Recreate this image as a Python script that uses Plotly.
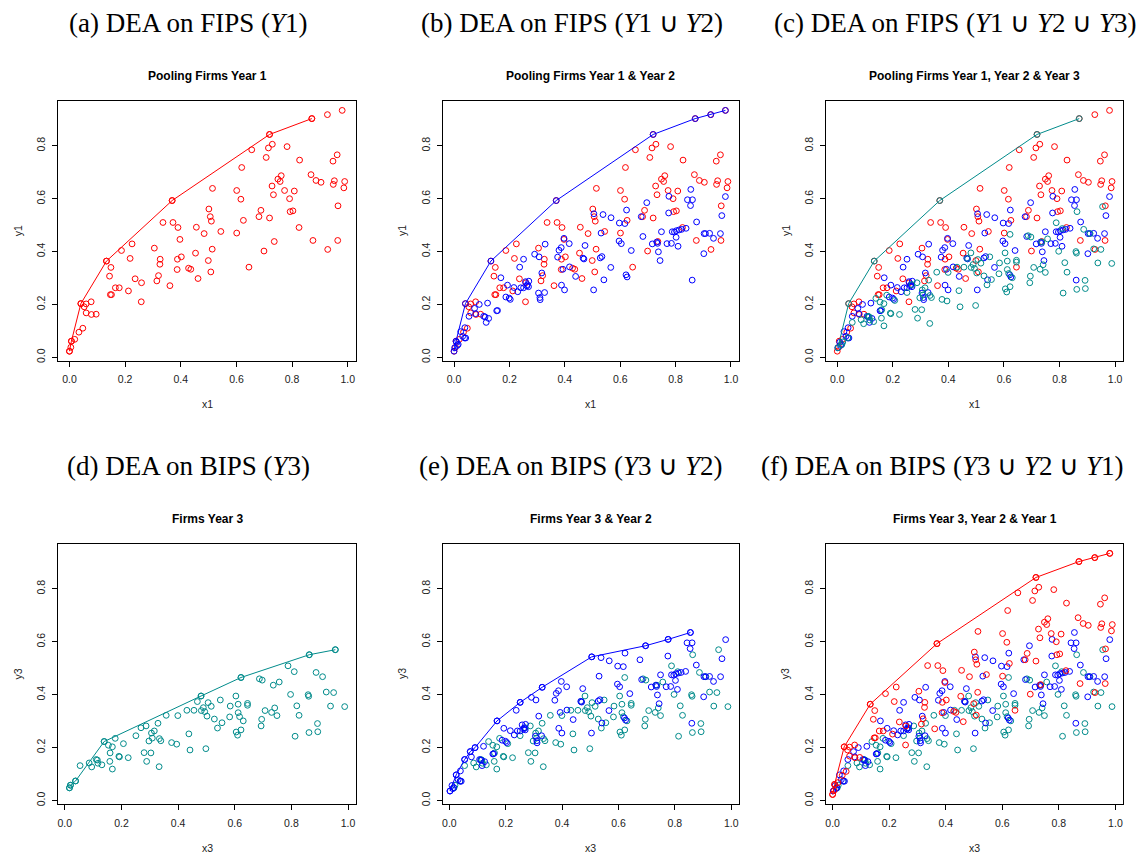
import plotly.graph_objects as go

# ---------------- data ----------------
red_x = [0.000,0.005,0.007,0.019,0.034,0.048,0.041,0.053,0.060,0.060,0.078,0.079,0.096,0.133,0.149,0.144,0.147,0.151,0.165,0.179,
         0.187,0.212,0.218,0.225,0.236,0.259,0.258,0.305,0.326,0.325,0.320,0.314,0.336,0.361,0.369,0.372,0.390,0.397,0.388,0.402,
         0.387,0.428,0.436,0.453,0.456,0.462,0.484,0.499,0.501,0.506,0.510,0.513,0.508,0.514,0.544,0.601,0.616,0.601,0.619,0.625,
         0.645,0.655,0.681,0.688,0.699,0.707,0.715,0.719,0.729,0.719,0.728,0.733,0.736,0.749,0.757,0.761,0.773,0.782,0.791,0.793,
         0.803,0.808,0.825,0.827,0.868,0.871,0.875,0.886,0.904,0.927,0.928,0.947,0.962,0.948,0.952,0.965,0.964,0.980,0.986,0.989]
red_y = [0.023,0.038,0.061,0.068,0.095,0.110,0.203,0.191,0.202,0.168,0.210,0.162,0.163,0.364,0.340,0.307,0.237,0.237,0.263,0.263,
         0.404,0.251,0.374,0.429,0.297,0.282,0.210,0.413,0.371,0.352,0.309,0.289,0.510,0.271,0.593,0.510,0.491,0.446,0.371,0.380,
         0.332,0.337,0.333,0.394,0.492,0.298,0.468,0.366,0.561,0.532,0.515,0.409,0.323,0.639,0.476,0.631,0.598,0.470,0.718,0.518,
         0.341,0.785,0.532,0.556,0.402,0.756,0.792,0.843,0.806,0.527,0.648,0.615,0.438,0.674,0.665,0.687,0.631,0.797,0.600,0.551,
         0.554,0.629,0.491,0.746,0.691,0.903,0.442,0.669,0.662,0.918,0.408,0.742,0.766,0.654,0.668,0.573,0.442,0.934,0.641,0.665]

blue_x = [0.002,0.009,0.012,0.015,0.024,0.031,0.038,0.042,0.039,0.054,0.074,0.078,0.091,0.107,0.112,0.116,0.121,0.125,0.154,0.157,
          0.169,0.187,0.193,0.199,0.203,0.216,0.230,0.237,0.241,0.251,0.251,0.258,0.263,0.265,0.270,0.269,0.291,0.307,0.305,0.310,
          0.311,0.317,0.327,0.329,0.374,0.379,0.387,0.388,0.393,0.399,0.397,0.416,0.417,0.439,0.473,0.466,0.469,0.504,0.505,0.528,
          0.531,0.534,0.538,0.541,0.566,0.567,0.596,0.597,0.604,0.617,0.623,0.621,0.625,0.640,0.676,0.682,0.696,0.716,0.732,0.735,
          0.738,0.744,0.749,0.769,0.775,0.776,0.785,0.788,0.796,0.802,0.803,0.809,0.813,0.822,0.838,0.843,0.855,0.854,0.861,0.860,
          0.876,0.902,0.903,0.908,0.923,0.937,0.962,0.967,0.980]
blue_y = [0.036,0.057,0.045,0.049,0.097,0.079,0.073,0.073,0.112,0.155,0.185,0.165,0.200,0.155,0.153,0.132,0.205,0.147,0.176,0.177,
          0.301,0.228,0.273,0.224,0.219,0.264,0.248,0.341,0.263,0.371,0.263,0.286,0.270,0.275,0.288,0.267,0.390,0.380,0.243,0.226,
          0.218,0.319,0.245,0.428,0.379,0.405,0.415,0.273,0.333,0.255,0.450,0.430,0.342,0.306,0.423,0.375,0.372,0.255,0.543,0.376,
          0.470,0.381,0.540,0.293,0.340,0.528,0.440,0.508,0.430,0.506,0.557,0.312,0.304,0.404,0.532,0.457,0.585,0.429,0.436,0.431,
          0.399,0.366,0.475,0.430,0.546,0.609,0.431,0.475,0.474,0.454,0.479,0.420,0.482,0.484,0.488,0.596,0.635,0.574,0.596,0.292,
          0.512,0.392,0.468,0.468,0.469,0.450,0.468,0.536,0.608]

teal_x = [0.0165,0.020,0.038,0.054,0.086,0.095,0.111,0.115,0.117,0.131,0.139,0.154,0.168,0.160,0.159,0.168,0.178,0.191,0.193,0.207,
          0.224,0.251,0.269,0.287,0.280,0.289,0.304,0.297,0.309,0.306,0.316,0.329,0.334,0.339,0.333,0.358,0.377,0.395,0.399,0.431,
          0.438,0.442,0.456,0.468,0.481,0.482,0.489,0.494,0.502,0.498,0.506,0.517,0.528,0.539,0.549,0.555,0.582,0.584,0.604,0.605,
          0.610,0.612,0.612,0.617,0.622,0.622,0.630,0.645,0.645,0.687,0.697,0.693,0.695,0.707,0.730,0.741,0.749,0.736,0.757,0.788,
          0.797,0.810,0.813,0.819,0.827,0.859,0.861,0.863,0.862,0.887,0.892,0.893,0.910,0.923,0.938,0.949,0.955,0.988]
teal_y = [0.048,0.058,0.074,0.132,0.142,0.127,0.155,0.153,0.141,0.135,0.223,0.209,0.203,0.180,0.148,0.119,0.235,0.167,0.165,0.215,
          0.162,0.245,0.275,0.282,0.181,0.148,0.180,0.225,0.236,0.255,0.263,0.292,0.234,0.226,0.128,0.322,0.219,0.213,0.321,0.341,
          0.252,0.191,0.341,0.374,0.395,0.340,0.351,0.336,0.319,0.196,0.370,0.356,0.308,0.274,0.380,0.294,0.316,0.357,0.395,0.259,
          0.247,0.332,0.364,0.317,0.267,0.465,0.301,0.367,0.360,0.460,0.455,0.282,0.307,0.340,0.333,0.350,0.321,0.436,0.448,0.509,
          0.401,0.487,0.243,0.358,0.322,0.400,0.394,0.551,0.257,0.484,0.291,0.260,0.468,0.410,0.357,0.408,0.570,0.355]

# DEA frontier vertices for each panel
front_a_x = [0.000,0.007,0.041,0.133,0.369,0.719,0.871]
front_a_y = [0.023,0.061,0.203,0.364,0.593,0.843,0.903]
front_b_x = [0.000,0.007,0.041,0.133,0.369,0.719,0.871,0.927,0.980]
front_b_y = [0.023,0.061,0.203,0.364,0.593,0.843,0.903,0.918,0.934]
front_c_x = [0.002,0.041,0.133,0.369,0.719,0.871]
front_c_y = [0.036,0.203,0.364,0.593,0.843,0.903]
front_d_x = [0.0165,0.020,0.038,0.139,0.481,0.622,0.863,0.955]
front_d_y = [0.048,0.058,0.074,0.223,0.395,0.465,0.551,0.570]
front_e_x = [0.002,0.024,0.054,0.074,0.091,0.169,0.251,0.329,0.505,0.696,0.776,0.855]
front_e_y = [0.036,0.097,0.155,0.185,0.200,0.301,0.371,0.428,0.543,0.585,0.609,0.635]
front_f_x = front_b_x
front_f_y = front_b_y

RED, BLUE, TEAL = "#FF0000", "#0000FF", "#008B8B"

W, H = 1141, 854

def px(x):
    return x / W

def py(y):
    return 1 - y / H

def rng(v):
    lo, hi = min(v), max(v)
    d = (hi - lo) * 0.04
    return [lo - d, hi + d]

cols = [(57.5, 355.0), (442.5, 738.5), (826.0, 1123.0)]
rows = [(101.0, 361.7), (545.0, 806.0)]

panels = [
    dict(row=0, col=0, series=[(red_x, red_y, RED)], front=(front_a_x, front_a_y, RED),
         xr=rng(red_x), sub="Pooling Firms Year 1", xl="x1", yl="y1",
         title="(a) DEA on FIPS (<i>Y</i>1)", tx=188),
    dict(row=0, col=1, series=[(red_x, red_y, RED), (blue_x, blue_y, BLUE)], front=(front_b_x, front_b_y, BLUE),
         xr=rng(red_x), sub="Pooling Firms Year 1 & Year 2", xl="x1", yl="y1",
         title="(b) DEA on FIPS (<i>Y</i>1 ∪ <i>Y</i>2)", tx=572),
    dict(row=0, col=2, series=[(red_x, red_y, RED), (blue_x, blue_y, BLUE), (teal_x, teal_y, TEAL)],
         front=(front_c_x, front_c_y, TEAL),
         xr=rng(red_x), sub="Pooling Firms Year 1, Year 2 & Year 3", xl="x1", yl="y1",
         title="(c) DEA on FIPS (<i>Y</i>1 ∪ <i>Y</i>2 ∪ <i>Y</i>3)", tx=955),
    dict(row=1, col=0, series=[(teal_x, teal_y, TEAL)], front=(front_d_x, front_d_y, TEAL),
         xr=rng(teal_x), sub="Firms Year 3", xl="x3", yl="y3",
         title="(d) DEA on BIPS (<i>Y</i>3)", tx=188),
    dict(row=1, col=1, series=[(teal_x, teal_y, TEAL), (blue_x, blue_y, BLUE)], front=(front_e_x, front_e_y, BLUE),
         xr=rng(teal_x), sub="Firms Year 3 & Year 2", xl="x3", yl="y3",
         title="(e) DEA on BIPS (<i>Y</i>3 ∪ <i>Y</i>2)", tx=570),
    dict(row=1, col=2, series=[(teal_x, teal_y, TEAL), (blue_x, blue_y, BLUE), (red_x, red_y, RED)],
         front=(front_f_x, front_f_y, RED),
         xr=rng(teal_x), sub="Firms Year 3, Year 2 & Year 1", xl="x3", yl="y3",
         title="(f) DEA on BIPS (<i>Y</i>3 ∪ <i>Y</i>2 ∪ <i>Y</i>1)", tx=942),
]

yr = rng(red_y)

fig = go.Figure()
annotations = []
SANS = "Liberation Sans, Arial, sans-serif"
SERIF = "Liberation Serif, Times New Roman, serif"

for i, p in enumerate(panels):
    n = "" if i == 0 else str(i + 1)
    xa, ya = "x" + n, "y" + n
    x0, x1 = cols[p["col"]]
    y0, y1 = rows[p["row"]]
    for sx, sy, c in p["series"]:
        fig.add_trace(go.Scatter(x=sx, y=sy, mode="markers", xaxis=xa, yaxis=ya, showlegend=False,
                                 marker=dict(symbol="circle-open", size=5.8, color=c, line=dict(width=1, color=c))))
    fx, fy, fc = p["front"]
    fig.add_trace(go.Scatter(x=fx, y=fy, mode="lines+markers", xaxis=xa, yaxis=ya, showlegend=False,
                             line=dict(color=fc, width=1),
                             marker=dict(symbol="circle-open", size=5.8, color=fc, line=dict(width=1, color=fc))))
    axcommon = dict(showline=True, mirror=True, linecolor="black", linewidth=1, ticks="outside", ticklen=5,
                    tickwidth=1, tickcolor="black", showgrid=False, zeroline=False,
                    tickfont=dict(family=SANS, size=10.5, color="#222"), tickformat=".1f")
    fig.layout["xaxis" + n] = dict(domain=[px(x0), px(x1)], range=p["xr"], anchor=ya,
                                   tickvals=[0, 0.2, 0.4, 0.6, 0.8, 1.0], ticklabelstandoff=4, **axcommon)
    fig.layout["yaxis" + n] = dict(domain=[py(y1), py(y0)], range=yr, anchor=xa,
                                   tickvals=[0, 0.2, 0.4, 0.6, 0.8], tickangle=-90, ticklabelstandoff=3, **axcommon)
    cx = (x0 + x1) / 2
    cy = (y0 + y1) / 2
    annotations.append(dict(x=px(cx), y=py(y0 - 25), xref="paper", yref="paper", text="<b>" + p["sub"] + "</b>",
                            showarrow=False, font=dict(family=SANS, size=12, color="black"),
                            xanchor="center", yanchor="middle"))
    annotations.append(dict(x=px(cx), y=py(y1 + 43.5), xref="paper", yref="paper", text=p["xl"],
                            showarrow=False, font=dict(family=SANS, size=10.5, color="#222"),
                            xanchor="center", yanchor="middle"))
    annotations.append(dict(x=px(x0 - 41), y=py(cy), xref="paper", yref="paper", text=p["yl"],
                            showarrow=False, textangle=-90, font=dict(family=SANS, size=10.5, color="#222"),
                            xanchor="center", yanchor="middle"))
    annotations.append(dict(x=px(p["tx"]), y=py(y0 - 78), xref="paper", yref="paper", text=p["title"],
                            showarrow=False, font=dict(family=SERIF, size=27, color="black"),
                            xanchor="center", yanchor="middle"))

fig.update_layout(width=W, height=H, autosize=False, margin=dict(l=0, r=0, t=0, b=0),
                  paper_bgcolor="white", plot_bgcolor="white", annotations=annotations)

fig.write_html("out.html")
